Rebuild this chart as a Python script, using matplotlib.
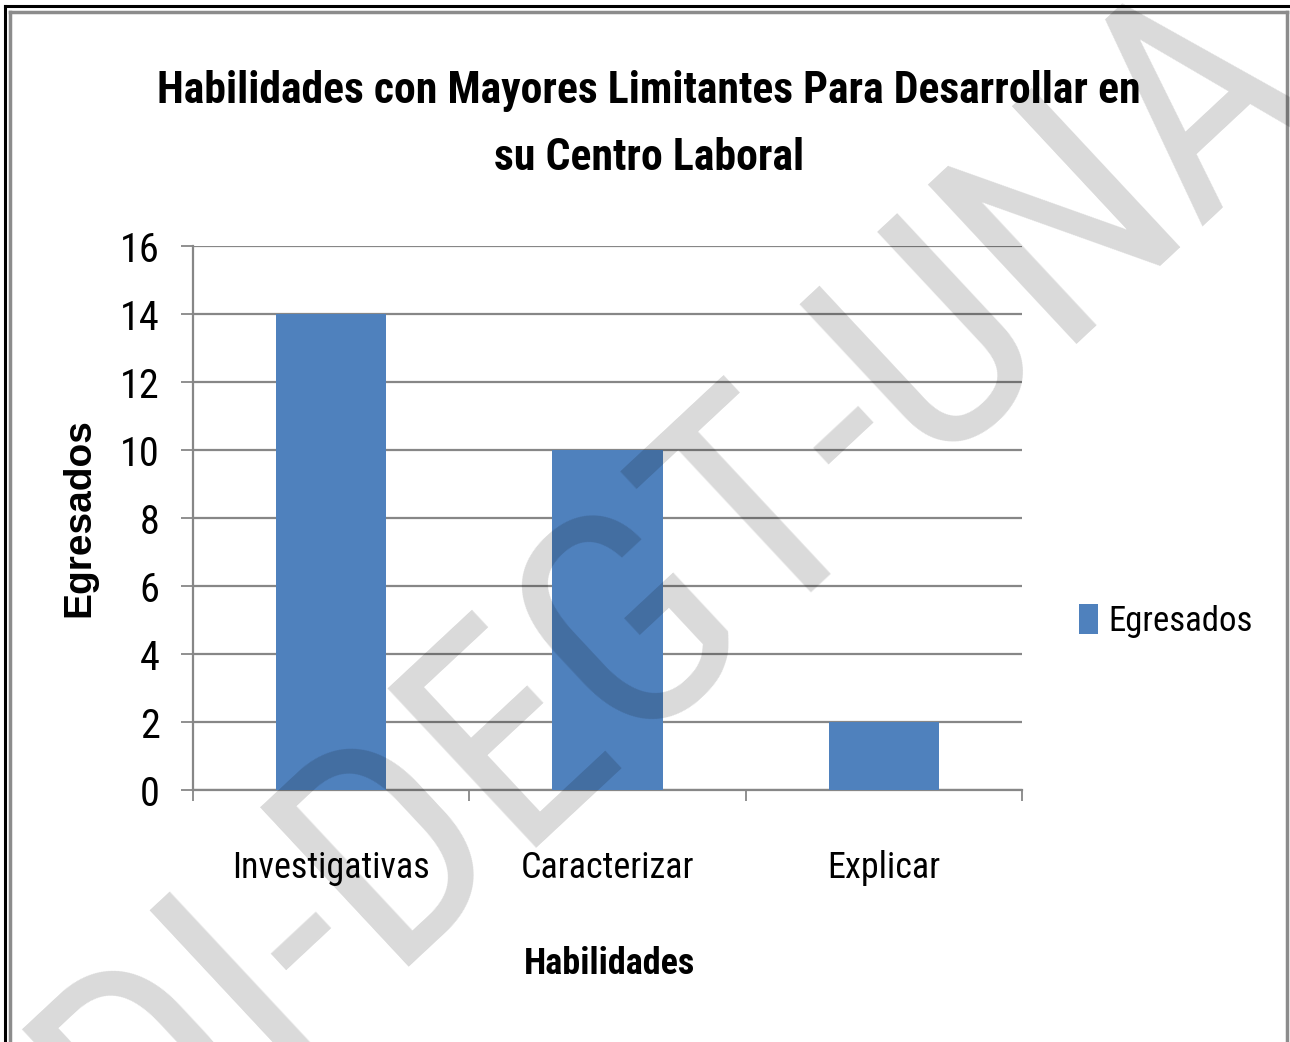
import matplotlib
matplotlib.use("Agg")
import matplotlib.pyplot as plt
from matplotlib.lines import Line2D
from matplotlib import font_manager as fm

# ---- data ----
categories = ["Investigativas", "Caracterizar", "Explicar"]
egresados = [14, 10, 2]
yticks = [0, 2, 4, 6, 8, 10, 12, 14, 16]
title = "Habilidades con Mayores Limitantes Para Desarrollar en\nsu Centro Laboral"
xlabel = "Habilidades"
ylabel = "Egresados"
series_name = "Egresados"
watermark = "DI-DEGT-UNA"

# pick the narrowest installed family
names = {f.name for f in fm.fontManager.ttflist}
if "Liberation Sans Narrow" in names:
    NF = "Liberation Sans Narrow"
elif "Roboto Condensed" in names:
    NF = "Roboto Condensed"
elif "Roboto" in names:
    NF = "Roboto"
else:
    NF = "Liberation Sans"
NARROW = [NF, "DejaVu Sans"]
REG = ["Liberation Sans", "DejaVu Sans"]

W, H = 1290, 1042
fig = plt.figure(figsize=(W / 100, H / 100), dpi=100)
fig.patch.set_facecolor("white")

ax = fig.add_axes([193 / W, 1 - 790 / H, (1022 - 193) / W, (790 - 246) / H])
x = list(range(len(categories)))
ax.bar(x, egresados, width=0.4, color="#4f81bd", zorder=3, label=series_name)

ax.set_xlim(-0.5, len(categories) - 0.5)
ax.set_ylim(0, 16)
ax.set_yticks(yticks)
ax.set_yticklabels([str(v) for v in yticks], fontfamily=NARROW, fontsize=29)
ax.yaxis.grid(True, color="#878787", linewidth=1.6, zorder=0)
ax.set_axisbelow(True)

ax.set_xticks([i - 0.5 for i in range(len(categories) + 1)])
ax.set_xticklabels([])
ax.set_xticks(x, minor=True)
ax.set_xticklabels(categories, minor=True, fontfamily=NARROW, fontsize=26)
ax.tick_params(axis="x", which="major", length=8, width=1.3, color="#878787", direction="out")
ax.tick_params(axis="x", which="minor", length=0, pad=43)
ax.tick_params(axis="y", length=9, width=1.3, color="#878787", pad=15)

for s in ["top", "right"]:
    ax.spines[s].set_visible(False)
for s in ["left", "bottom"]:
    ax.spines[s].set_color("#878787")
    ax.spines[s].set_linewidth(1.6)

ax.set_xlabel(xlabel, fontfamily=NARROW, fontweight="bold", fontsize=26)
ax.xaxis.set_label_coords((609 - 193) / (1022 - 193), -(964 - 790) / (790 - 246))
ax.xaxis.label.set_va("center")
ax.set_ylabel(ylabel, fontfamily=REG, fontweight="bold", fontsize=28)
ax.yaxis.set_label_coords((79 - 193) / (1022 - 193), 0.5)
ax.yaxis.label.set_va("center")

fig.text(649 / W, 1 - 124.5 / H, title, ha="center", va="center",
         fontfamily=NARROW, fontweight="bold", fontsize=31.5, linespacing=1.76)

leg = fig.legend(loc="center left", bbox_to_anchor=(1079 / W, 1 - 621 / H),
                 frameon=False, prop={"family": NARROW, "size": 25},
                 handlelength=0.55, handleheight=0.95, handletextpad=0.3,
                 borderpad=0, borderaxespad=0)

# page frame (double border)
def fl(x0, y0, x1, y1, **kw):
    fig.add_artist(Line2D([x0 / W, x1 / W], [1 - y0 / H, 1 - y1 / H],
                          transform=fig.transFigure, **kw))

fl(5, 6, 1295, 6, color="black", linewidth=2.2)
fl(5, 6, 5, 1050, color="black", linewidth=2.2)
fl(10, 12, 1287, 12, color="#8c8c8c", linewidth=2.5)
fl(10, 12, 10, 1050, color="#8c8c8c", linewidth=2.5)
fl(1287, 12, 1287, 1050, color="#8c8c8c", linewidth=2.5)

# watermark
fig.text(677 / W, 1 - 580 / H, watermark, ha="center", va="center",
         rotation=43, rotation_mode="anchor", fontfamily=NARROW,
         fontsize=220, color="black", alpha=0.15, zorder=10)

fig.savefig("out.png", dpi=100, facecolor="white")
